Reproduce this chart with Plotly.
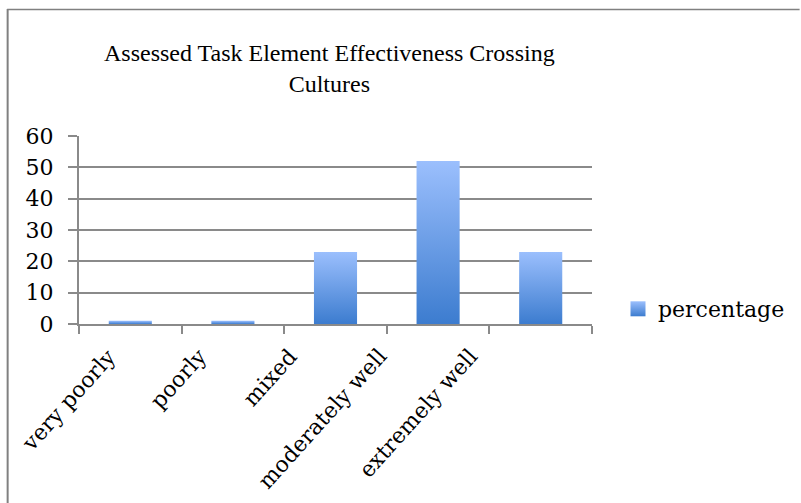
import plotly.graph_objects as go

# Survey results
categories = ["very poorly", "poorly", "mixed", "moderately well", "extremely well"]
percentage = [1, 1, 23, 52, 23]
y_ticks = [0, 10, 20, 30, 40, 50, 60]

TITLE = "Assessed Task Element Effectiveness Crossing<br>Cultures"
SERIES = "percentage"

W, H = 801, 503
PLOT_L, PLOT_R, PLOT_T, PLOT_B = 79, 593, 136, 324
BAR_W = 0.42
LIGHT = "rgb(155,191,253)"
DARK = "rgb(60,124,207)"
GRID = "#8a8a8a"
SERIF = "DejaVu Serif"


def px_x(px):
    return (px - PLOT_L) / (PLOT_R - PLOT_L)


def px_y(py):
    return (PLOT_B - py) / (PLOT_B - PLOT_T)


idx = list(range(len(categories)))
fig = go.Figure()

# bars drawn as filled rectangles with a vertical gradient
for i, v in zip(idx, percentage):
    x0, x1 = i - BAR_W / 2, i + BAR_W / 2
    fig.add_trace(go.Scatter(
        x=[x0, x1, x1, x0, x0], y=[0, 0, v, v, 0],
        mode="lines", line=dict(width=0), fill="toself",
        fillgradient=dict(type="vertical", colorscale=[[0, DARK], [1, LIGHT]]),
        showlegend=False, hoverinfo="skip",
    ))

# legend key for the series
fig.add_trace(go.Scatter(
    x=[None], y=[None], mode="markers", name=SERIES,
    marker=dict(symbol="square", size=15, color=LIGHT,
                gradient=dict(type="vertical", color=DARK),
                line=dict(width=0)),
    showlegend=True,
))

# rotated category labels below the axis
cat_labels = [
    dict(text=c, x=i, y=0, xref="x", yref="y",
         xanchor="right", yanchor="top", textangle=-48,
         xshift=-6 - 12.5 * i, yshift=-17, showarrow=False,
         font=dict(family=SERIF, size=22, color="black"))
    for i, c in zip(idx, categories)
]

fig.update_layout(
    width=W, height=H,
    margin=dict(l=PLOT_L, r=W - PLOT_R, t=PLOT_T, b=H - PLOT_B),
    paper_bgcolor="white", plot_bgcolor="white",
    font=dict(family=SERIF, size=22, color="black"),
    showlegend=True,
    legend=dict(x=px_x(618), y=px_y(309), xanchor="left", yanchor="middle",
                font=dict(family=SERIF, size=22), itemwidth=30,
                bgcolor="rgba(0,0,0,0)"),
    xaxis=dict(
        range=[-0.5, len(categories) - 0.5],
        tickvals=idx, showticklabels=False,
        ticks="", showgrid=False, zeroline=False,
        showline=True, linecolor=GRID, linewidth=2,
        minor=dict(tick0=-0.5, dtick=1, ticks="outside", ticklen=8,
                   tickcolor=GRID, tickwidth=2, showgrid=False),
        fixedrange=True,
    ),
    yaxis=dict(
        range=[0, 60], tickvals=y_ticks,
        ticks="outside", ticklen=9, tickcolor=GRID, tickwidth=1.5,
        showgrid=True, gridcolor=GRID, gridwidth=1.5,
        zeroline=False, showline=True, linecolor=GRID, linewidth=2,
        ticklabelstandoff=10,
        fixedrange=True,
    ),
    annotations=cat_labels + [dict(
        text=TITLE, xref="paper", yref="paper",
        x=px_x(330), y=px_y(68), xanchor="center", yanchor="middle",
        showarrow=False, align="center",
        font=dict(family="Liberation Serif", size=24, color="black"),
    )],
    shapes=[
        dict(type="line", xref="paper", yref="paper",
             x0=px_x(7), x1=px_x(801), y0=px_y(9.5), y1=px_y(9.5),
             line=dict(color="#808080", width=1.5)),
        dict(type="line", xref="paper", yref="paper",
             x0=px_x(7.5), x1=px_x(7.5), y0=px_y(9), y1=px_y(503),
             line=dict(color="#808080", width=2)),
    ],
)

fig.write_html("out.html")
